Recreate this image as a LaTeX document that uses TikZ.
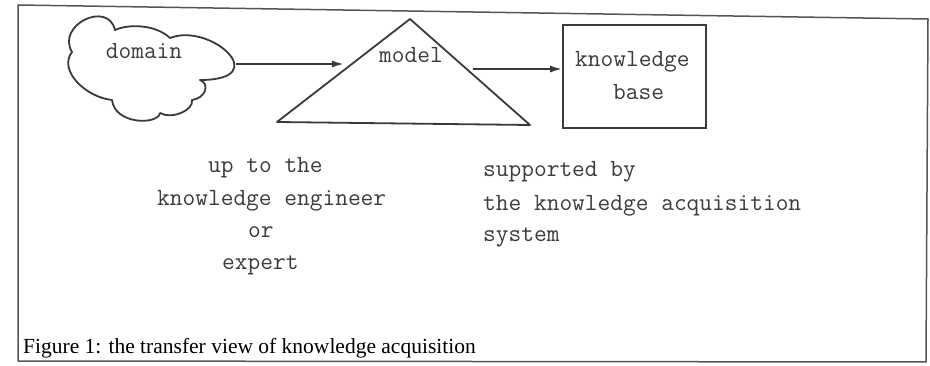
\documentclass[tikz,border=0pt]{standalone}
\usepackage{fontspec}
\usetikzlibrary{arrows.meta,calc}
\newfontfamily\capfont{Liberation Serif}
\definecolor{ink}{HTML}{3A3A3A}
\definecolor{textink}{HTML}{3C3C3C}
\definecolor{frameink}{HTML}{555555}
\begin{document}
\begin{tikzpicture}[x=1pt,y=1pt,
  outline/.style={draw=ink,line width=1.8pt,line join=round},
  arr/.style={draw=ink,line width=1.8pt,-{Latex[length=12pt,width=7pt]}},
  mtext/.style={font=\ttfamily\fontsize{24.7}{32}\selectfont,text=textink,inner sep=0pt},
  ctext/.style={font=\capfont\fontsize{21.5}{26}\selectfont,text=black,inner sep=0pt},
  kbox/.style={draw=ink,line width=1.8pt,minimum width=143pt,minimum height=103pt,inner sep=0pt}]
\useasboundingbox (0,0) rectangle (930,-366);
\fill[white] (0,0) rectangle (930,-366);

% frame around the figure
\draw[frameink,line width=1.5pt,line join=round]
  (18,-5) -- (928,-19) -- (926,-362) -- (18,-361) -- cycle;

% domain cloud
\draw[outline]
  (72,-52) .. controls (56,-25) and (108,0) .. (115,-30)
  .. controls (128,-24) and (155,-24) .. (170,-38)
  .. controls (210,-22) and (275,-80) .. (200,-80)
  .. controls (210,-84) and (206,-98) .. (192,-100)
  .. controls (194,-110) and (172,-120) .. (160,-113)
  .. controls (158,-125) and (115,-125) .. (112,-100)
  .. controls (85,-97) and (58,-70) .. cycle;
\node[mtext,anchor=base] (domain) at (144,-59) {domain};
\coordinate (cloudR) at (236,-64);

% model triangle
\coordinate (apex) at (410,-19);
\coordinate (tBL) at (277,-122);
\coordinate (tBR) at (530,-125);
\draw[outline] (apex) -- (tBL) -- (tBR) -- cycle;
\node[mtext,anchor=base] (model) at (411,-63) {model};
\coordinate (triL) at ($(tBL)!0.563!(apex)$);
\coordinate (triR) at ($(apex)!0.472!(tBR)$);

% knowledge base box
\node[kbox] (kb) at (634.5,-76.5) {};
\node[mtext,anchor=base west] (kb1) at (575,-67) {knowledge};
\node[mtext,anchor=base west] (kb2) at (613,-100) {base};

% connectors
\draw[arr,shorten >=8pt] (cloudR) -- (triL);
\draw[arr,shorten <=6pt] (triR) -- (kb.west |- triR);

% annotations under the diagram
\node[mtext,anchor=base west] (eng1) at (208,-173) {up to the};
\node[mtext,anchor=base west] (eng2) at (157,-206) {knowledge engineer};
\node[mtext,anchor=base west] (eng3) at (248,-238) {or};
\node[mtext,anchor=base west] (eng4) at (222,-270) {expert};

\node[mtext,anchor=base west] (sup1) at (483,-177) {supported by};
\node[mtext,anchor=base west] (sup2) at (483,-211) {the knowledge acquisition};
\node[mtext,anchor=base west] (sup3) at (483,-242) {system};

% caption
\node[ctext,anchor=base west] (caption) at (23,-353) {Figure 1: the transfer view of knowledge acquisition};
\end{tikzpicture}
\end{document}
